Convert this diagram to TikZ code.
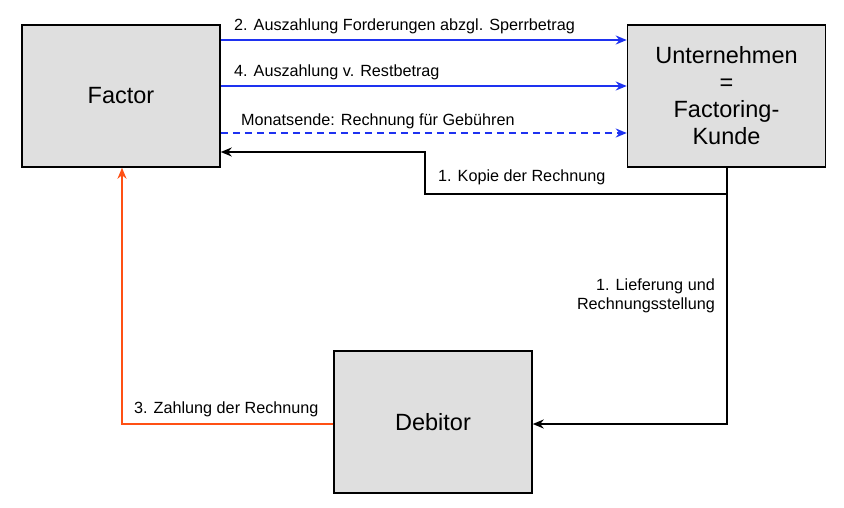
\documentclass[tikz,border=0pt]{standalone}
\usepackage{fontspec}
\setmainfont{Liberation Sans}
\usetikzlibrary{arrows.meta}
\begin{document}
\begin{tikzpicture}[x=1pt,y=-1pt,
 box/.style={draw,line width=1.5pt,fill=gray!25,minimum width=198pt,minimum height=142pt,font=\fontsize{23.5}{27}\selectfont,align=center},
 lab/.style={font=\fontsize{16.2}{18.5}\selectfont,inner sep=1pt},
 arr/.style={line width=2pt,-{Stealth[length=11pt,width=9pt]}},
 blue arr/.style={arr,draw={rgb,255:red,30;green,50;blue,240}}]
\useasboundingbox (0,0) rectangle (844,507);
\node[box] (F) at (121,96) {Factor};
\node[box] (U) at (726.5,96) {Unternehmen\\=\\Factoring-\\Kunde};
\node[box] (D) at (433,422) {Debitor};
\draw[blue arr] (F.east|-0,40) -- (U.west|-0,40);
\node[lab,anchor=west] at (233,26) {2. Auszahlung Forderungen abzgl. Sperrbetrag};
\draw[blue arr] (F.east|-0,86) -- (U.west|-0,86);
\node[lab,anchor=west] at (233,72) {4. Auszahlung v. Restbetrag};
\draw[blue arr,dash pattern=on 7pt off 5pt] (F.east|-0,133) -- (U.west|-0,133);
\node[lab,anchor=west] at (240,121) {Monatsende: Rechnung für Gebühren};
\coordinate (k1) at (727,194);
\coordinate (k2) at (425,194);
\coordinate (k3) at (425,152);
\draw[arr] (U.south-|k1) -- (k1) -- (k2) -- (k3) -- (F.east|-k3);
\node[lab,anchor=west] at (437,177) {1. Kopie der Rechnung};
\coordinate (l1) at (727,424);
\draw[arr] (U.south-|l1) -- (l1) -- (D.east|-l1);
\node[lab,anchor=east,align=right] at (716,296) {1. Lieferung und\\Rechnungsstellung};
\coordinate (z1) at (122,424);
\draw[arr,draw={rgb,255:red,255;green,80;blue,20}] (D.west|-z1) -- (z1) -- (F.south-|z1);
\node[lab,anchor=west] at (133,409) {3. Zahlung der Rechnung};
\end{tikzpicture}
\end{document}
